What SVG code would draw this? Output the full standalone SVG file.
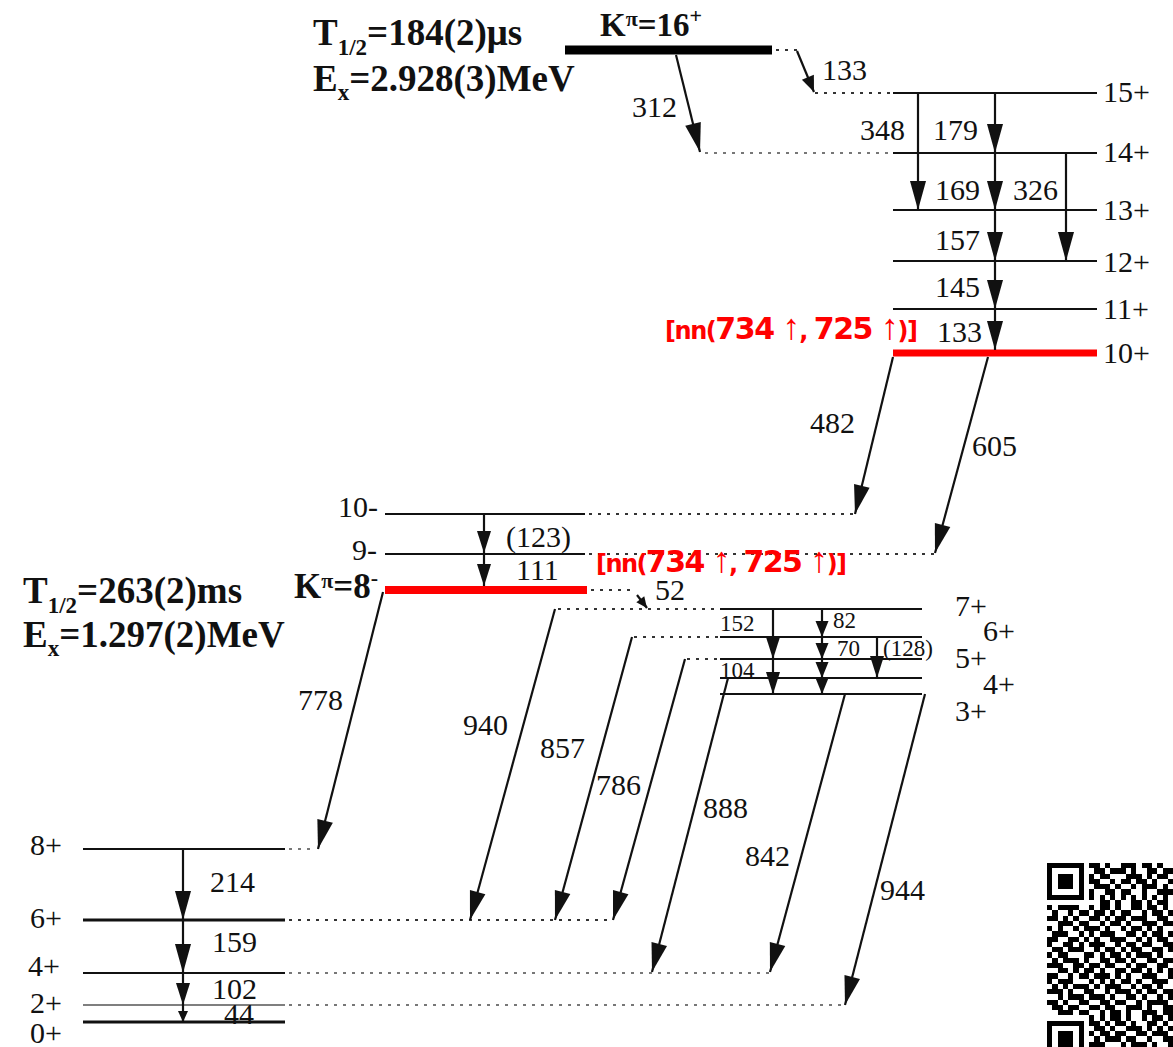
<svg xmlns="http://www.w3.org/2000/svg" width="1173" height="1047" viewBox="0 0 1173 1047">
<defs>
<style>
.lv{stroke:#111;stroke-width:2.2;fill:none}
.lvb{stroke:#111;stroke-width:3;fill:none}
.lvg{stroke:#555;stroke-width:1.6;fill:none}
.dot{stroke:#333;stroke-width:2;stroke-dasharray:3 6;fill:none}
.dotg{stroke:#777;stroke-width:2;stroke-dasharray:3 6;fill:none}
.red{stroke:#f00;fill:none}
.ar{stroke:#111;stroke-width:2.2;fill:none}
.ar-l{marker-end:url(#ahL)}
.ar-m{marker-end:url(#ahM)}
.ar-s{marker-end:url(#ahS)}
.ar-t{marker-end:url(#ahT)}
text{font-family:"Liberation Serif","Times New Roman",serif;fill:#111}
.t{font-size:30px}
.ts{font-size:23px}
.b{font-weight:bold}
.rt{font-family:"DejaVu Sans",Verdana,sans-serif;font-weight:bold;fill:#f00;font-size:24px}
.rt .big{font-size:30px}
.rt .n{font-weight:normal;font-family:"Liberation Sans",Arial,sans-serif;font-size:36px}
</style>
<marker id="ahL" markerUnits="userSpaceOnUse" markerWidth="32" markerHeight="18" refX="29" refY="8" orient="auto" overflow="visible"><path d="M0,0 L29,8 L0,16 z" fill="#111"/></marker>
<marker id="ahM" markerUnits="userSpaceOnUse" markerWidth="24" markerHeight="16" refX="22" refY="7" orient="auto" overflow="visible"><path d="M0,0 L22,7 L0,14 z" fill="#111"/></marker>
<marker id="ahS" markerUnits="userSpaceOnUse" markerWidth="18" markerHeight="14" refX="16" refY="6.5" orient="auto" overflow="visible"><path d="M0,0 L16,6.5 L0,13 z" fill="#111"/></marker>
<marker id="ahT" markerUnits="userSpaceOnUse" markerWidth="13" markerHeight="11" refX="11" refY="5" orient="auto" overflow="visible"><path d="M0,0 L11,5 L0,10 z" fill="#111"/></marker>
</defs>
<rect width="1173" height="1047" fill="#fff"/>

<!-- isomer labels -->
<g id="iso-16">
<text class="b" x="313" y="45" font-size="37">T<tspan font-size="23" dy="10">1/2</tspan><tspan dy="-10">=184(2)μs</tspan></text>
<text class="b" x="313" y="91" font-size="37">E<tspan font-size="23" dy="9">x</tspan><tspan dy="-9">=2.928(3)MeV</tspan></text>
</g>
<g id="iso-8">
<text class="b" x="23" y="603" font-size="37">T<tspan font-size="23" dy="10">1/2</tspan><tspan dy="-10">=263(2)ms</tspan></text>
<text class="b" x="23" y="647" font-size="37">E<tspan font-size="23" dy="9">x</tspan><tspan dy="-9">=1.297(2)MeV</tspan></text>
</g>

<!-- levels -->
<g id="lvl-16p">
<line x1="565" y1="50" x2="772" y2="50" stroke="#000" stroke-width="9"/>
<line class="dot" x1="776" y1="50" x2="800" y2="50"/>
<text class="b" x="600" y="36" font-size="33">K<tspan font-size="22" dy="-10">π</tspan><tspan dy="10">=16</tspan><tspan font-size="22" dy="-13">+</tspan></text>
</g>
<g id="lvl-15p"><line class="dot" x1="815" y1="93" x2="893" y2="93"/><line class="lv" x1="893" y1="93" x2="1097" y2="93"/><text class="t" x="1103" y="102">15+</text></g>
<g id="lvl-14p"><line class="dotg" x1="705" y1="153" x2="893" y2="153"/><line class="lv" x1="893" y1="153" x2="1097" y2="153"/><text class="t" x="1103" y="162">14+</text></g>
<g id="lvl-13p"><line class="lv" x1="893" y1="210" x2="1097" y2="210"/><text class="t" x="1103" y="220">13+</text></g>
<g id="lvl-12p"><line class="lv" x1="893" y1="261" x2="1097" y2="261"/><text class="t" x="1103" y="272">12+</text></g>
<g id="lvl-11p"><line class="lv" x1="893" y1="309" x2="1097" y2="309"/><text class="t" x="1103" y="319">11+</text></g>
<g id="lvl-10p">
<line class="red" x1="893" y1="353" x2="1097" y2="353" stroke-width="7"/>
<text class="t" x="1103" y="363">10+</text>
<text class="rt" x="665" y="339" textLength="253" lengthAdjust="spacing">[nn(<tspan class="big">734 </tspan><tspan class="n">↑</tspan>, <tspan class="big">725 </tspan><tspan class="n">↑</tspan>)]</text>
</g>

<g id="lvl-10m"><line class="lv" x1="385" y1="514" x2="585" y2="514"/><line class="dot" x1="589" y1="514" x2="855" y2="514"/><text class="t" x="378" y="517" text-anchor="end">10-</text></g>
<g id="lvl-9m"><line class="lv" x1="385" y1="554" x2="585" y2="554"/><line class="dot" x1="589" y1="554" x2="935" y2="554"/><text class="t" x="377" y="560" text-anchor="end">9-</text></g>
<g id="lvl-8m">
<line class="red" x1="385" y1="590" x2="587" y2="590" stroke-width="8"/>
<line class="dot" x1="591" y1="590" x2="636" y2="590"/>
<text class="b" x="378" y="598" font-size="35" text-anchor="end">K<tspan font-size="22" dy="-10">π</tspan><tspan dy="10">=8</tspan><tspan font-size="22" dy="-13">-</tspan></text>
<text class="rt" x="596" y="572" textLength="251" lengthAdjust="spacing">[nn(<tspan class="big">734 </tspan><tspan class="n">↑</tspan>, <tspan class="big">725 </tspan><tspan class="n">↑</tspan>)]</text>
</g>

<g id="lvl-7p"><line class="dot" x1="558" y1="609" x2="720" y2="609"/><line class="lv" x1="720" y1="609" x2="922" y2="609"/><text class="t" x="955" y="616" font-size="28">7+</text></g>
<g id="lvl-6p"><line class="dot" x1="634" y1="637" x2="720" y2="637"/><line class="lv" x1="720" y1="637" x2="922" y2="637"/><text class="t" x="983" y="641" font-size="28">6+</text></g>
<g id="lvl-5p"><line class="dot" x1="687" y1="659" x2="720" y2="659"/><line class="lv" x1="720" y1="659" x2="922" y2="659"/><text class="t" x="955" y="668" font-size="28">5+</text></g>
<g id="lvl-4p"><line class="lv" x1="720" y1="678" x2="922" y2="678"/><text class="t" x="983" y="694" font-size="28">4+</text></g>
<g id="lvl-3p"><line class="lv" x1="720" y1="694" x2="922" y2="694"/><text class="t" x="955" y="721" font-size="28">3+</text></g>

<g id="gsb-8p"><line class="lv" x1="83" y1="849" x2="285" y2="849"/><line class="dotg" x1="289" y1="849" x2="315" y2="849"/><text class="t" x="30" y="855">8+</text></g>
<g id="gsb-6p"><line class="lvb" x1="83" y1="920" x2="285" y2="920"/><line class="dot" x1="289" y1="920" x2="613" y2="920"/><text class="t" x="30" y="928">6+</text></g>
<g id="gsb-4p"><line class="lv" x1="83" y1="973" x2="285" y2="973"/><line class="dotg" x1="289" y1="973" x2="770" y2="973"/><text class="t" x="28" y="976">4+</text></g>
<g id="gsb-2p"><line class="lvg" x1="83" y1="1005" x2="285" y2="1005"/><line class="dotg" x1="289" y1="1005" x2="843" y2="1005"/><text class="t" x="30" y="1013">2+</text></g>
<g id="gsb-0p"><line class="lvb" x1="83" y1="1022" x2="285" y2="1022"/><text class="t" x="30" y="1043">0+</text></g>

<!-- connectors -->
<g id="connectors">
<line class="ar ar-s" x1="797" y1="51" x2="814" y2="92"/>
<line class="ar ar-l" x1="676" y1="55" x2="700" y2="152"/>
<line class="ar ar-l" x1="918" y1="93" x2="918" y2="210"/>
<line class="ar ar-l" x1="995" y1="93" x2="995" y2="153"/>
<line class="ar ar-l" x1="995" y1="153" x2="995" y2="210"/>
<line class="ar ar-l" x1="995" y1="210" x2="995" y2="261"/>
<line class="ar ar-l" x1="995" y1="261" x2="995" y2="309"/>
<line class="ar ar-l" x1="995" y1="309" x2="995" y2="350"/>
<line class="ar ar-l" x1="1066" y1="153" x2="1066" y2="261"/>
<line class="ar ar-l" x1="893" y1="357" x2="855" y2="514"/>
<line class="ar ar-l" x1="988" y1="357" x2="935" y2="553"/>
<line class="ar ar-m" x1="484" y1="514" x2="484" y2="553"/>
<line class="ar ar-m" x1="484" y1="554" x2="484" y2="586"/>
<line class="ar ar-t" x1="637" y1="595" x2="647" y2="608"/>
<line class="ar ar-m" x1="773" y1="609" x2="773" y2="659"/>
<line class="ar ar-m" x1="773" y1="659" x2="773" y2="694"/>
<line class="ar ar-s" x1="822" y1="609" x2="822" y2="637"/>
<line class="ar ar-s" x1="822" y1="637" x2="822" y2="659"/>
<line class="ar ar-s" x1="822" y1="659" x2="822" y2="678"/>
<line class="ar ar-s" x1="822" y1="678" x2="822" y2="694"/>
<line class="ar ar-m" x1="877" y1="637" x2="877" y2="678"/>
<line class="ar ar-l" x1="383" y1="592" x2="318" y2="849"/>
<line class="ar ar-l" x1="555" y1="609" x2="470" y2="920"/>
<line class="ar ar-l" x1="632" y1="637" x2="555" y2="920"/>
<line class="ar ar-l" x1="685" y1="659" x2="613" y2="920"/>
<line class="ar ar-l" x1="728" y1="678" x2="652" y2="972"/>
<line class="ar ar-l" x1="845" y1="694" x2="770" y2="972"/>
<line class="ar ar-l" x1="925" y1="694" x2="845" y2="1005"/>
<line class="ar ar-l" x1="183" y1="849" x2="183" y2="920"/>
<line class="ar ar-l" x1="183" y1="920" x2="183" y2="973"/>
<line class="ar ar-m" x1="183" y1="973" x2="183" y2="1005"/>
<line class="ar ar-t" x1="183" y1="1005" x2="183" y2="1022"/>
</g>

<!-- transition labels -->
<g id="labels">
<text class="t" x="822" y="80">133</text>
<text class="t" x="632" y="117">312</text>
<text class="t" x="860" y="140">348</text>
<text class="t" x="933" y="140">179</text>
<text class="t" x="935" y="200">169</text>
<text class="t" x="1013" y="200">326</text>
<text class="t" x="935" y="250">157</text>
<text class="t" x="935" y="297">145</text>
<text class="t" x="937" y="342">133</text>
<text class="t" x="810" y="433">482</text>
<text class="t" x="972" y="456">605</text>
<text class="t" x="506" y="547">(123)</text>
<text class="t" x="516" y="580">111</text>
<text class="t" x="655" y="600">52</text>
<text class="ts" x="720" y="631">152</text>
<text class="ts" x="833" y="628">82</text>
<text class="ts" x="837" y="656">70</text>
<text class="ts" x="883" y="656">(128)</text>
<text class="ts" x="720" y="678">104</text>
<text class="t" x="298" y="710">778</text>
<text class="t" x="463" y="735">940</text>
<text class="t" x="540" y="758">857</text>
<text class="t" x="596" y="795">786</text>
<text class="t" x="703" y="818">888</text>
<text class="t" x="745" y="866">842</text>
<text class="t" x="880" y="900">944</text>
<text class="t" x="210" y="892">214</text>
<text class="t" x="212" y="952">159</text>
<text class="t" x="212" y="999">102</text>
<text class="t" x="224" y="1024" font-size="23">44</text>
</g>

<!-- QR code -->
<g id="qr" transform="translate(1047,863) scale(5.25)" shape-rendering="crispEdges">
<path fill="#000" fill-rule="evenodd" d="M0 0h7v7h-7z M1 1v5h5v-5z M2 2h3v3h-3z M0 30h7v7h-7z M1 31v5h5v-5z M2 32h3v3h-3z"/>
<g stroke="#000" stroke-width="1" fill="none">
<line x1="8" y1="0.5" x2="24" y2="0.5" stroke-dasharray="2 1 1 2 3 1 2 1 1 2"/>
<line x1="8" y1="1.5" x2="24" y2="1.5" stroke-dasharray="0 1 2 1 3 1 1 2 2 1 2"/>
<line x1="8" y1="2.5" x2="24" y2="2.5" stroke-dasharray="1 1 2 3 3 1 1 1 2 1"/>
<line x1="8" y1="3.5" x2="24" y2="3.5" stroke-dasharray="2 2 1 1 2 1 2 1 1 2 1"/>
<line x1="8" y1="4.5" x2="24" y2="4.5" stroke-dasharray="0 1 3 1 1 2 1 1 3 1 1 1"/>
<line x1="8" y1="5.5" x2="24" y2="5.5" stroke-dasharray="1 2 2 1 2 2 1 2 3"/>
<line x1="8" y1="6.5" x2="24" y2="6.5" stroke-dasharray="1 1"/>
<line x1="8" y1="7.5" x2="24" y2="7.5" stroke-dasharray="0 2 2 1 1 2 2 1 1 1 2 1"/>
<line x1="0" y1="8.5" x2="24" y2="8.5" stroke-dasharray="1 1 4 2 1 1 2 1 1 2 2 1 2 1 1 1"/>
<line x1="0" y1="9.5" x2="24" y2="9.5" stroke-dasharray="0 1 1 2 1 1 2 1 2 1 1 1 2 2 1 1 2 1 1"/>
<line x1="0" y1="10.5" x2="24" y2="10.5" stroke-dasharray="2 1 1 1 1 2 2 1 1 1 2 1 3 2 2 1"/>
<line x1="0" y1="11.5" x2="24" y2="11.5" stroke-dasharray="0 2 3 1 2 2 1 1 2 1 1 2 3 1 2"/>
<line x1="0" y1="12.5" x2="24" y2="12.5" stroke-dasharray="1 1 1 2 1 1 3 1 1 2 1 1 2 1 1 1 1 2"/>
<line x1="0" y1="13.5" x2="24" y2="13.5" stroke-dasharray="0 1 3 2 1 1 1 1 3 2 2 1 1 1 2 1 1"/>
<line x1="0" y1="14.5" x2="24" y2="14.5" stroke-dasharray="2 2 2 1 1 1 1 2 3 2 1 1 1 1 2 1"/>
<line x1="0" y1="15.5" x2="24" y2="15.5" stroke-dasharray="1 2 2 1 1 1 3 2 1 1 2 1 2 2 2"/>
<line x1="0" y1="16.5" x2="24" y2="16.5" stroke-dasharray="0 1 2 1 3 2 1 1 2 1 1 1 2 2 2 1 1"/>
<line x1="0" y1="17.5" x2="24" y2="17.5" stroke-dasharray="1 1 2 3 2 1 1 1 2 1 1 1 3 1 1 2"/>
<line x1="0" y1="18.5" x2="24" y2="18.5" stroke-dasharray="0 1 1 1 3 1 1 2 2 1 2 1 1 2 2 1 2"/>
<line x1="0" y1="19.5" x2="24" y2="19.5" stroke-dasharray="3 2 2 1 2 1 2 2 1 1 2 2 2 1"/>
<line x1="0" y1="20.5" x2="24" y2="20.5" stroke-dasharray="0 2 2 1 1 1 2 1 1 2 2 1 2 1 1 1 1 1 1"/>
<line x1="0" y1="21.5" x2="24" y2="21.5" stroke-dasharray="2 2 1 1 2 1 3 1 1 1 1 2 3 2 1"/>
<line x1="0" y1="22.5" x2="24" y2="22.5" stroke-dasharray="1 1 3 3 1 1 1 1 1 1 2 1 1 2 3 1"/>
<line x1="0" y1="23.5" x2="24" y2="23.5" stroke-dasharray="0 1 1 1 1 1 3 1 1 1 3 2 1 1 2 1 1 2"/>
<line x1="0" y1="24.5" x2="24" y2="24.5" stroke-dasharray="3 1 1 2 2 2 1 1 3 1 1 1 2 1 2"/>
<line x1="0" y1="25.5" x2="24" y2="25.5" stroke-dasharray="0 2 1 1 3 1 3 1 1 2 2 1 1 2 1 1 1"/>
<line x1="0" y1="26.5" x2="24" y2="26.5" stroke-dasharray="2 1 1 2 2 2 2 1 2 2 1 1 4 1"/>
<line x1="0" y1="27.5" x2="24" y2="27.5" stroke-dasharray="0 1 2 1 2 2 2 1 2 2 3 1 1 2 2"/>
<line x1="0" y1="28.5" x2="24" y2="28.5" stroke-dasharray="0 2 3 1 2 2 1 1 2 1 1 2 3 1 2"/>
<line x1="8" y1="29.5" x2="24" y2="29.5" stroke-dasharray="1 1 1 1 2 1 1 2 1 1 2 1 1"/>
<line x1="8" y1="30.5" x2="24" y2="30.5" stroke-dasharray="2 1 1 1 2 1 1 2 2 1 1 1"/>
<line x1="8" y1="31.5" x2="24" y2="31.5" stroke-dasharray="0 1 2 1 1 2 3 1 1 1 1 1 1"/>
<line x1="8" y1="32.5" x2="24" y2="32.5" stroke-dasharray="1 1 2 1 2 2 2 1 3 1"/>
<line x1="8" y1="33.5" x2="24" y2="33.5" stroke-dasharray="0 1 1 1 3 1 2 2 1 2 2"/>
<line x1="8" y1="34.5" x2="24" y2="34.5" stroke-dasharray="3 3 1 1 3 1 1 2 1"/>
<line x1="8" y1="35.5" x2="24" y2="35.5" stroke-dasharray="0 2 3 1 2 2 2 1 2 1"/>
</g>
</g>
</svg>
